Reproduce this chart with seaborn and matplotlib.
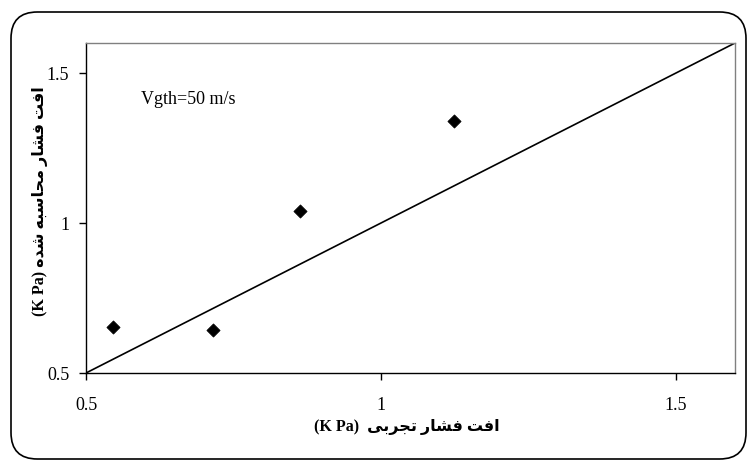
import matplotlib
matplotlib.use("Agg")
import matplotlib.pyplot as plt
from matplotlib.patches import FancyBboxPatch
import seaborn as sns
import pandas as pd

# Measured vs. computed pressure drop (kPa)
experimental = [0.546, 0.716, 0.863, 1.123]
computed = [0.653, 0.643, 1.040, 1.340]
parity_x = [0.5, 1.6]
parity_y = [0.5, 1.6]
ticks = [0.5, 1.0, 1.5]
tick_labels = ["0.5", "1", "1.5"]
annotation = "Vgth=50 m/s"
xlabel_fa = "افت فشار تجربی"
ylabel_fa = "افت فشار محاسبه شده"
unit = "(K Pa)"

# --- minimal Arabic-script shaping (contextual forms + visual order) ---
FORMS = {  # isolated, final, initial, medial
    "ا": ("\uFE8D", "\uFE8E", None, None),
    "ب": ("\uFE8F", "\uFE90", "\uFE91", "\uFE92"),
    "ت": ("\uFE95", "\uFE96", "\uFE97", "\uFE98"),
    "ج": ("\uFE9D", "\uFE9E", "\uFE9F", "\uFEA0"),
    "ح": ("\uFEA1", "\uFEA2", "\uFEA3", "\uFEA4"),
    "د": ("\uFEA9", "\uFEAA", None, None),
    "ر": ("\uFEAD", "\uFEAE", None, None),
    "س": ("\uFEB1", "\uFEB2", "\uFEB3", "\uFEB4"),
    "ش": ("\uFEB5", "\uFEB6", "\uFEB7", "\uFEB8"),
    "ف": ("\uFED1", "\uFED2", "\uFED3", "\uFED4"),
    "م": ("\uFEE1", "\uFEE2", "\uFEE3", "\uFEE4"),
    "ه": ("\uFEE9", "\uFEEA", "\uFEEB", "\uFEEC"),
    "ی": ("\uFEEF", "\uFEF0", "\uFEF3", "\uFEF4"),
}


def dual(c):
    return c in FORMS and FORMS[c][2] is not None


def shape(text):
    out = []
    for i, c in enumerate(text):
        if c not in FORMS:
            out.append(c)
            continue
        prev = text[i - 1] if i > 0 else ""
        nxt = text[i + 1] if i + 1 < len(text) else ""
        jp = dual(prev)
        jn = dual(c) and nxt in FORMS
        iso, fin, ini, med = FORMS[c]
        if jp and jn:
            out.append(med)
        elif jp:
            out.append(fin)
        elif jn:
            out.append(ini)
        else:
            out.append(iso)
    return "".join(reversed(out))


sns.set_theme(style="white")
plt.rcParams["font.family"] = ["Liberation Serif", "DejaVu Sans"]

fig = plt.figure(figsize=(7.53, 4.62), dpi=100)
fig.patch.set_facecolor("white")

# rounded frame around the whole chart
frame = FancyBboxPatch((11 / 753, 3 / 462), 735 / 753, 447 / 462,
                       boxstyle="round,pad=0,rounding_size=0.035",
                       transform=fig.transFigure, fill=False,
                       edgecolor="black", linewidth=1.2,
                       mutation_aspect=753 / 462)
fig.patches.append(frame)

ax = fig.add_axes([86 / 753, (462 - 373) / 462, 649 / 753, 330 / 462])

df_line = pd.DataFrame({"x": parity_x, "y": parity_y})
df_pts = pd.DataFrame({"x": experimental, "y": computed})

sns.lineplot(data=df_line, x="x", y="y", ax=ax, color="black", linewidth=1.2)
sns.scatterplot(data=df_pts, x="x", y="y", ax=ax, marker="D", s=45,
                color="black", edgecolor="black", zorder=5)

ax.set_xlim(0.5, 1.6)
ax.set_ylim(0.5, 1.6)
ax.set_xticks(ticks)
ax.set_xticklabels(tick_labels)
ax.set_yticks(ticks)
ax.set_yticklabels(tick_labels)
ax.tick_params(axis="both", direction="out", length=5, width=1,
               color="black", labelsize=13, labelcolor="black")
ax.tick_params(axis="x", pad=12)
ax.tick_params(axis="y", pad=7)
ax.tick_params(bottom=True, left=True)

for side in ("left", "bottom"):
    ax.spines[side].set_color("black")
    ax.spines[side].set_linewidth(1)
for side in ("top", "right"):
    ax.spines[side].set_color("#808080")
    ax.spines[side].set_linewidth(1)

ax.text(0.593, 1.41, annotation, fontsize=13, color="black",
        va="center", ha="left")

lab_font = dict(fontsize=11.5, fontweight="bold", color="black")
ax.set_xlabel(unit + "  " + shape(xlabel_fa), **lab_font)
ax.set_ylabel(unit + " " + shape(ylabel_fa), **lab_font)
ax.xaxis.set_label_coords(0.495, -0.14)
ax.yaxis.set_label_coords(-0.058, 0.52)

fig.savefig("out.png", dpi=100, facecolor="white")
